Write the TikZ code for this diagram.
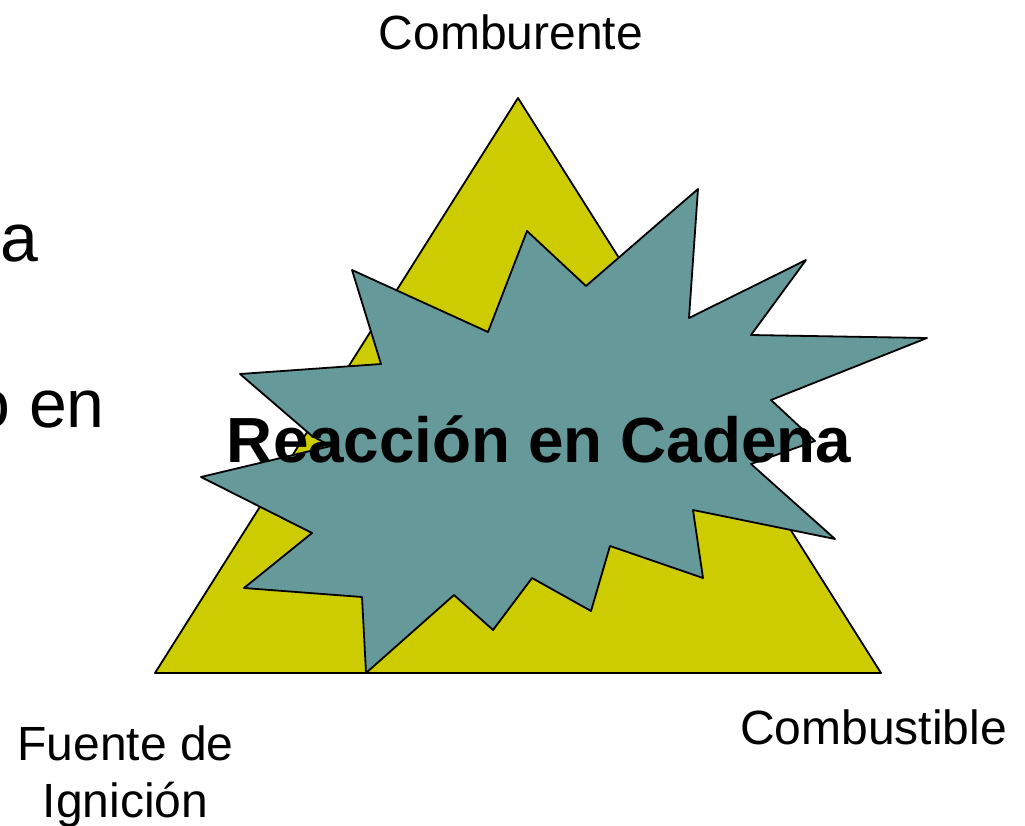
\documentclass[tikz,border=0pt]{standalone}
\usepackage{fontspec}
\setmainfont{Liberation Sans}
\definecolor{tri}{HTML}{CCCC00}
\definecolor{burst}{HTML}{669999}
\tikzset{lab/.style={inner sep=0pt,align=center,font=\fontsize{48}{57.5}\selectfont},
big/.style={inner sep=0pt,font=\fontsize{68}{74}\selectfont},
shape line/.style={draw=black,line width=1.8pt,line join=round}}
\begin{document}
\begin{tikzpicture}[x=1pt,y=-1pt,every node/.style={anchor=center}]
\useasboundingbox (0,0) rectangle (1025,825);
\fill[white] (0,0) rectangle (1025,825);
\draw[shape line,fill=tri] (518,98) -- (881,673) -- (155,673) -- cycle;
\draw[shape line,fill=burst] (366,673) -- (362,597) -- (244,588) -- (312,533) -- (201,477) -- (331,446) -- (312,436) -- (240,374) -- (381,364) -- (352,270) -- (488,332) -- (527,231) -- (586,286) -- (698,189) -- (689,318) -- (806,260) -- (751,335) -- (927,338) -- (771,400) -- (815,441) -- (751,464) -- (835,539) -- (693,510) -- (703,578) -- (610,546) -- (591,611) -- (532,578) -- (493,630) -- (454,595) -- cycle;
\node[lab] (t1) at (511,32) {Comburente};
\node[lab] (t2) at (125.5,776.5) {Fuente de\\Ignición};
\node[lab] (t3) at (873.5,727) {Combustible};
\node[big,font=\fontsize{63.8}{70}\selectfont\bfseries] (t4) at (539,439.5) {Reacción en Cadena};
\node[big,anchor=base east] (t5) at (38.5,261) {a};
\node[big,anchor=base east] (t6) at (105,427) {o en};
\end{tikzpicture}
\end{document}
